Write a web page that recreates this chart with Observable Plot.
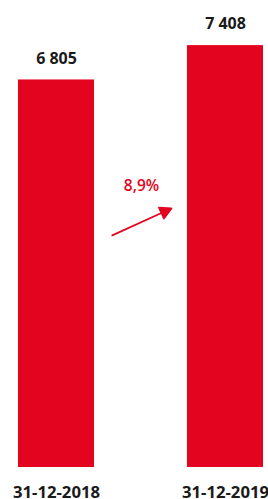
<!DOCTYPE html>
<html>
<head>
<meta charset="utf-8">
<script src="https://cdn.jsdelivr.net/npm/d3@7"></script>
<script src="https://cdn.jsdelivr.net/npm/@observablehq/plot@0.6"></script>
<style>
  html, body { margin: 0; padding: 0; background: #fff; }
  #chart svg { display: block; }
</style>
</head>
<body>
<div id="chart"></div>
<script>
// ---- data ----
const dates = ["31-12-2018", "31-12-2019"];
const values = [6805, 7408];
// annotation: growth arrow and label (in data units: x = category index, y = value)
const arrowStart = {x: 0.33, y: 4077};
const growthLabelPos = {x: 0.503, y: 4938};

const red = "#e30520";
const loc = d3.formatLocale({decimal: ",", thousands: " ", grouping: [3], currency: ["", ""]});
const fmtNum = loc.format(",");
const fmtPct = loc.format(".1%");
const growth = values[1] / values[0] - 1;

const data = dates.map((d, i) => ({i, date: d, value: values[i]}));
const hw = 0.225; // half bar width in category units

const arrowShape = {
  draw(ctx, l) {
    const h = 11, w = 6;
    ctx.moveTo(0, 0);
    ctx.lineTo(0, -l + h);
    ctx.moveTo(0, -l);
    ctx.lineTo(-w, -l + h);
    ctx.lineTo(w, -l + h);
    ctx.closePath();
  }
};

const chart = Plot.plot({
  width: 268,
  height: 499,
  marginLeft: 0,
  marginRight: 0,
  marginTop: 0,
  marginBottom: 32,
  style: {fontFamily: "'Open Sans', sans-serif", background: "#fff", overflow: "hidden"},
  x: {domain: [-56 / 169, 212 / 169], axis: null},
  y: {domain: [0, 8200], axis: null},
  marks: [
    Plot.rectY(data, {x1: d => d.i - hw, x2: d => d.i + hw, y: "value", fill: red}),
    Plot.text(data, {x: "i", y: "value", text: d => fmtNum(d.value), dy: -21.5, lineAnchor: "middle",
      fontSize: 16, fontWeight: "bold", fill: "#1a1a1a"}),
    Plot.axisX({ticks: [0, 1], tickFormat: i => dates[i], tickSize: 0, tickPadding: 19,
      fontSize: 16.7, fontWeight: "bold", fill: "#1a1a1a", color: "#1a1a1a"}),
    Plot.vector([arrowStart], {x: "x", y: "y", length: 65, rotate: 65.6, anchor: "start",
      shape: arrowShape, stroke: red, fill: red, strokeWidth: 1.8}),
    Plot.text([growthLabelPos], {x: "x", y: "y", text: () => fmtPct(growth), lineAnchor: "middle",
      fontSize: 15.5, fontWeight: 600, fill: red})
  ]
});
document.getElementById("chart").appendChild(chart);
</script>
</body>
</html>
